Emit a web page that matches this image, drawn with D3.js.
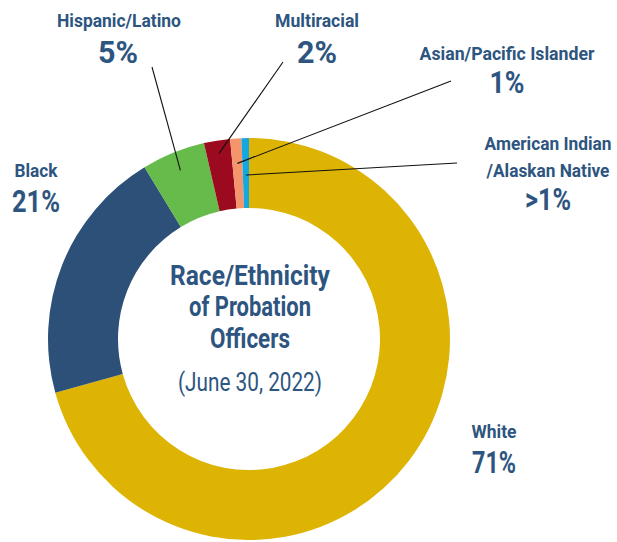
<!DOCTYPE html>
<html>
<head>
<meta charset="utf-8">
<script src="https://cdn.jsdelivr.net/npm/d3@7"></script>
<style>
  html, body { margin: 0; padding: 0; background: #fff; }
  svg { display: block; font-family: Roboto, "Noto Sans", sans-serif; }
</style>
</head>
<body>
<svg id="chart" width="617" height="542"></svg>
<script>
// chart data
const categories = ["White", "Black", "Hispanic/Latino", "Multiracial", "Asian/Pacific Islander", "American Indian /Alaskan Native"];
const values = [70.7, 20.6, 5.1, 2.1, 0.9, 0.6];
const pctLabels = ["71%", "21%", "5%", "2%", "1%", ">1%"];
const colors = ["#DDB304", "#2C5078", "#66BB4A", "#9B0A1E", "#F4956C", "#15A8E0"];
const titleLines = ["Race/Ethnicity", "of Probation", "Officers"];
const subtitle = "(June 30, 2022)";

// label placement: name lines, x centre, baselines, widths, optional leader
const labelLayout = [
  { lines: ["White"], x: 494, y: [438], w: [45], py: 473, pw: 44 },
  { lines: ["Black"], x: 36, y: [177], w: [43], py: 212, pw: 48 },
  { lines: ["Hispanic/Latino"], x: 119, y: [27], w: [124], px: 118, py: 63, pw: 40, leader: [152, 67], r: 182 },
  { lines: ["Multiracial"], x: 317, y: [27], w: [84], py: 63, pw: 40, leader: [283, 62], r: 188 },
  { lines: ["Asian/Pacific Islander"], x: 507, y: [60], w: [175], py: 93, pw: 35, leader: [451, 81], r: 176 },
  { lines: ["American Indian", "/Alaskan Native"], x: 548, y: [150, 177], w: [127, 123], py: 210, pw: 46, leader: [457, 163], r: 164 }
];

const textColor = "#2D5580";
const cx = 249, cy = 339, outerR = 201, innerR = 131;

const svg = d3.select("#chart");
const g = svg.append("g").attr("transform", `translate(${cx},${cy})`);

// condensed-looking text: draw at origin, squeeze horizontally to the wanted width
function label(str, x, y, size, weight, width) {
  const t = svg.append("text")
    .attr("x", 0).attr("y", 0)
    .attr("text-anchor", "middle")
    .attr("font-size", size).attr("font-weight", weight)
    .attr("fill", textColor)
    .text(str);
  const natural = t.node().getComputedTextLength();
  const sx = natural > 0 ? width / natural : 1;
  t.attr("transform", `translate(${x},${y}) scale(${sx},1)`);
  return t;
}

const pie = d3.pie().sort(null).value(d => d)(values);
const arc = d3.arc().innerRadius(innerR).outerRadius(outerR);

g.selectAll("path.slice")
  .data(pie)
  .enter().append("path")
  .attr("class", "slice")
  .attr("d", arc)
  .attr("fill", (d, i) => colors[i]);

// leader lines
pie.forEach((d, i) => {
  const lay = labelLayout[i];
  if (!lay.leader) return;
  const a = (d.startAngle + d.endAngle) / 2;
  const x1 = Math.sin(a) * lay.r, y1 = -Math.cos(a) * lay.r;
  g.append("line")
    .attr("x1", x1).attr("y1", y1)
    .attr("x2", lay.leader[0] - cx).attr("y2", lay.leader[1] - cy)
    .attr("stroke", "#111").attr("stroke-width", 1.1);
});

// slice labels
labelLayout.forEach((lay, i) => {
  lay.lines.forEach((line, j) => label(line, lay.x, lay.y[j], 19, 700, lay.w[j]));
  label(pctLabels[i], lay.px != null ? lay.px : lay.x, lay.py, 32, 700, lay.pw);
});

// centre title
const titleWidths = [160, 122, 80];
const titleBase = [285, 316, 348];
titleLines.forEach((t, i) => label(t, cx + 1, titleBase[i], 28, 700, titleWidths[i]));
label(subtitle, cx + 1, 391, 25, 400, 144);
</script>
</body>
</html>
